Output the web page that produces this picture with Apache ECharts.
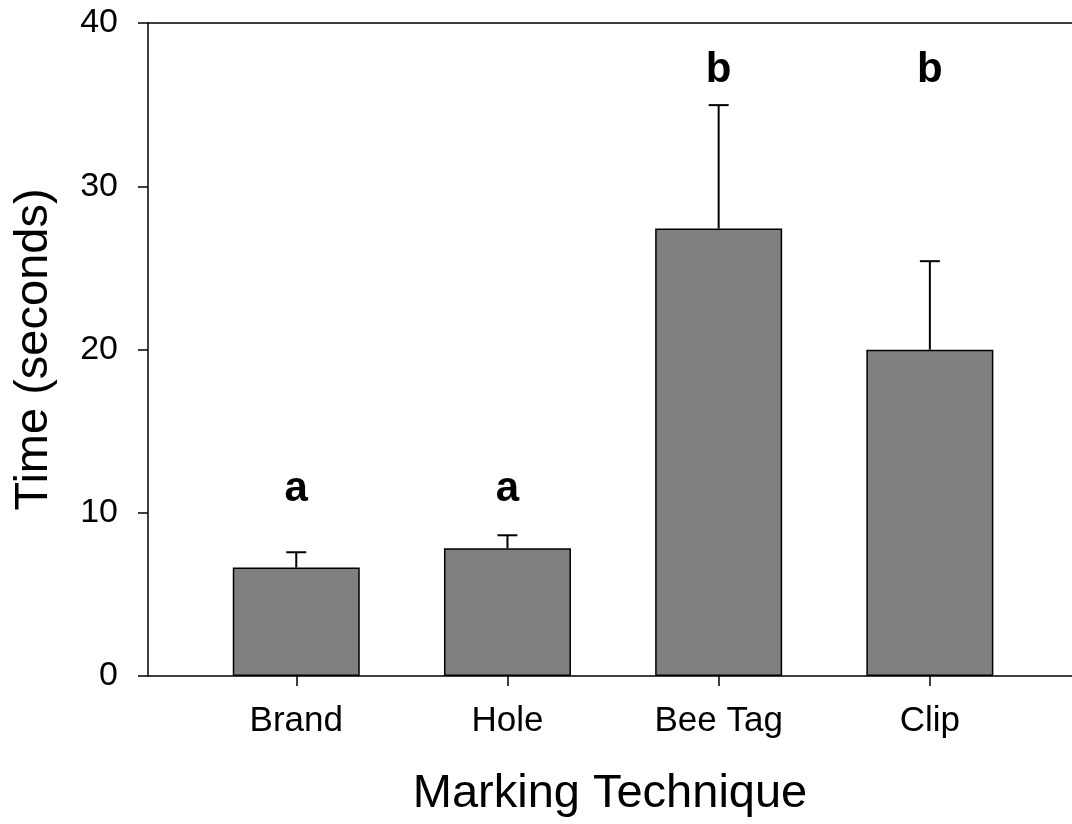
<!DOCTYPE html>
<html>
<head>
<meta charset="utf-8">
<script src="https://cdn.jsdelivr.net/npm/echarts@6/dist/echarts.min.js"></script>
<style>
  html, body { margin: 0; padding: 0; background: #fff; }
  #chart { width: 1072px; height: 824px; }
</style>
</head>
<body>
<div id="chart"></div>
<script>
// Mean time (seconds) per marking technique, with upper standard error
const categories = ['Brand', 'Hole', 'Bee Tag', 'Clip'];
const meanTime = [6.64, 7.83, 27.41, 19.99];
const errorTop = [7.58, 8.62, 34.97, 25.41];
const groupLetters = ['a', 'a', 'b', 'b'];
const yTicks = [0, 10, 20, 30, 40];

const FONT = '"Liberation Sans", Arial, Helvetica, sans-serif';

// Height (in seconds) at which each significance letter group is centred
const letterLevel = { a: 11.4, b: 37.1 };

const positions = categories.map((_, i) => i + 1);
const barData = positions.map((x, i) => [x, meanTime[i]]);
const errData = positions.map((x, i) => [x, meanTime[i], errorTop[i]]);
const letterData = positions.map((x, i) => [x, letterLevel[groupLetters[i]], i]);

// x range: the frame runs past the right edge of the canvas
const X_MIN = 0.298;
const X_MAX = 4.673;

const chart = echarts.init(document.getElementById('chart'), null, { renderer: 'canvas' });

chart.setOption({
  animation: false,
  backgroundColor: '#ffffff',
  grid: { left: 148, top: 23, bottom: 148, right: 0 },
  xAxis: [
    {
      type: 'value',
      min: X_MIN,
      max: X_MAX,
      name: 'Marking Technique',
      nameLocation: 'middle',
      nameGap: 95,
      nameTextStyle: { fontFamily: FONT, fontSize: 47, color: '#000' },
      axisLine: { show: true, onZero: false, lineStyle: { color: '#000', width: 1.5 } },
      axisTick: { show: true, length: 10, customValues: positions, lineStyle: { color: '#000', width: 1.5 } },
      axisLabel: {
        customValues: positions,
        formatter: v => categories[Math.round(v) - 1] || '',
        fontFamily: FONT, fontSize: 35, color: '#000', margin: 28
      },
      splitLine: { show: false }
    },
    {
      // top frame line
      type: 'value',
      position: 'top',
      min: X_MIN,
      max: X_MAX,
      axisLine: { show: true, onZero: false, lineStyle: { color: '#000', width: 1.5 } },
      axisTick: { show: false },
      axisLabel: { show: false },
      splitLine: { show: false }
    }
  ],
  yAxis: {
    type: 'value',
    min: 0,
    max: 40,
    interval: 10,
    name: 'Time (seconds)',
    nameLocation: 'middle',
    nameGap: 90,
    nameTextStyle: { fontFamily: FONT, fontSize: 47, color: '#000' },
    axisLine: { show: true, lineStyle: { color: '#000', width: 1.5 } },
    axisTick: { show: true, length: 10, lineStyle: { color: '#000', width: 1.5 } },
    axisLabel: {
      customValues: yTicks,
      fontFamily: FONT, fontSize: 34, color: '#000', margin: 30
    },
    splitLine: { show: false }
  },
  series: [
    {
      type: 'bar',
      data: barData,
      barWidth: 127,
      itemStyle: { color: '#808080', borderColor: '#000', borderWidth: 1.5 },
      z: 2
    },
    {
      // upper error bars with caps
      type: 'custom',
      data: errData,
      z: 3,
      renderItem: (params, api) => {
        const x = api.value(0);
        const p0 = api.coord([x, api.value(1)]);
        const p1 = api.coord([x, api.value(2)]);
        const cap = 10;
        const style = { stroke: '#000', lineWidth: 2 };
        return {
          type: 'group',
          children: [
            { type: 'line', shape: { x1: p0[0], y1: p0[1], x2: p1[0], y2: p1[1] }, style },
            { type: 'line', shape: { x1: p1[0] - cap, y1: p1[1], x2: p1[0] + cap, y2: p1[1] }, style }
          ]
        };
      }
    },
    {
      // significance letters
      type: 'custom',
      data: letterData,
      z: 4,
      renderItem: (params, api) => {
        const p = api.coord([api.value(0), api.value(1)]);
        return {
          type: 'text',
          x: p[0],
          y: p[1],
          style: {
            text: groupLetters[api.value(2)],
            fontFamily: FONT,
            fontSize: 42,
            fontWeight: 'bold',
            fill: '#000',
            align: 'center',
            verticalAlign: 'middle'
          }
        };
      }
    }
  ]
});
</script>
</body>
</html>
